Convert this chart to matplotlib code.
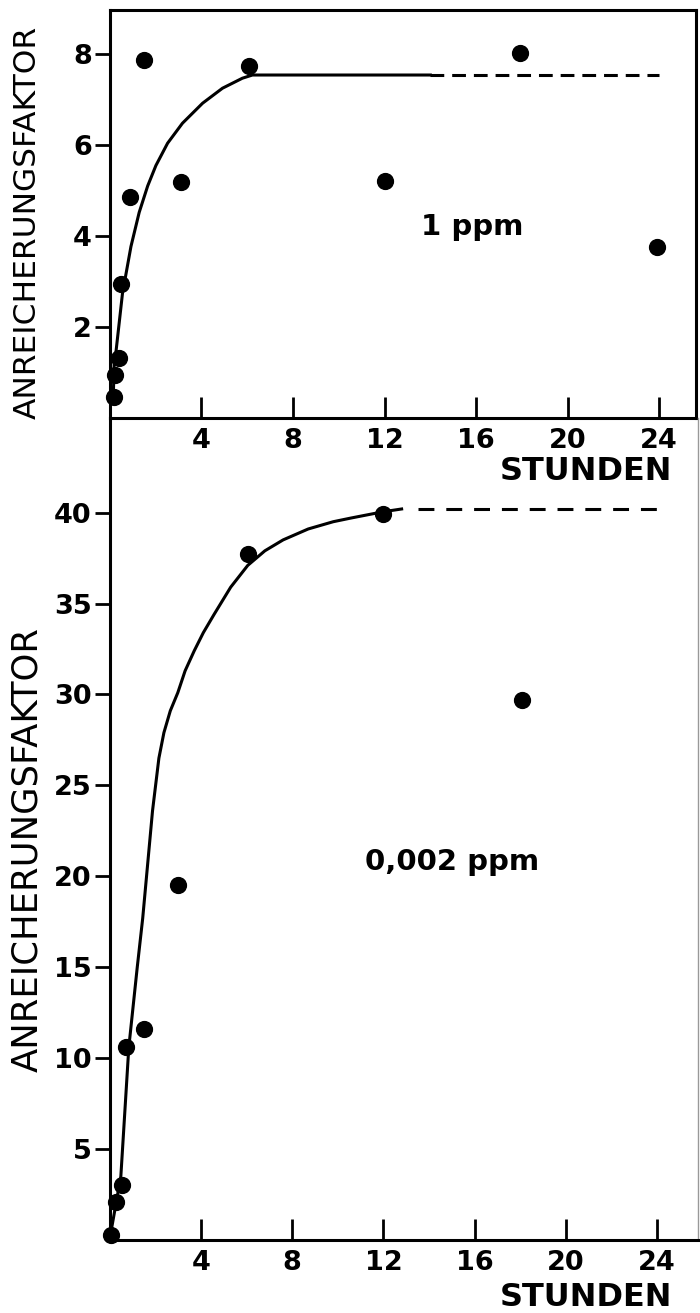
import matplotlib.pyplot as plt

# Messpunkte 1 ppm
t_1ppm = [0.17, 0.23, 0.4, 0.5, 0.88, 1.5, 3.1, 6.07, 12.0, 17.9, 23.9]
f_1ppm = [0.46, 0.95, 1.32, 2.95, 4.86, 7.87, 5.19, 7.74, 5.2, 8.02, 3.76]
# Kurve 1 ppm
kurve_t_1ppm = [0.15, 0.19, 0.26, 0.55, 0.92, 1.28, 1.65, 2.01, 2.52, 3.17, 4.05, 4.92, 5.79, 6.23, 10.0, 14.0]
kurve_f_1ppm = [0.5, 1.27, 1.43, 2.74, 3.77, 4.52, 5.1, 5.55, 6.04, 6.48, 6.92, 7.25, 7.47, 7.54, 7.54, 7.54]
strich_t_1ppm = [14.0, 24.0]
strich_f_1ppm = [7.54, 7.54]

# Messpunkte 0,002 ppm
t_2ppb = [0.04, 0.26, 0.52, 0.7, 1.5, 2.98, 6.05, 12.0, 18.07]
f_2ppb = [0.27, 2.1, 3.0, 10.6, 11.6, 19.5, 37.7, 39.9, 29.7]
kurve_t_2ppb = [0.0, 0.04, 0.48, 0.83, 1.2, 1.44, 1.87, 2.15, 2.37, 2.65, 2.98, 3.3, 3.7, 4.1, 4.57, 5.3, 6.05, 6.8, 7.6, 8.7, 9.8, 10.57, 12.0, 12.8]
kurve_f_2ppb = [0.0, 0.4, 3.5, 10.6, 15.0, 17.7, 23.6, 26.5, 27.9, 29.1, 30.1, 31.3, 32.4, 33.4, 34.4, 35.9, 37.1, 37.9, 38.5, 39.1, 39.5, 39.7, 40.05, 40.2]
strich_t_2ppb = [13.5, 24.0]
strich_f_2ppb = [40.2, 40.2]

x_ticks = [4, 8, 12, 16, 20, 24]
y_ticks_oben = [2, 4, 6, 8]
y_ticks_unten = [5, 10, 15, 20, 25, 30, 35, 40]

plt.rcParams['font.family'] = ['DejaVu Sans']
plt.rcParams['font.weight'] = 'bold'
lw = 2.2

fig = plt.figure(figsize=(7, 13.13), dpi=100)
ax1 = fig.add_axes([0.157, 0.6817, 0.837, 0.3107])
ax2 = fig.add_axes([0.157, 0.0556, 0.84, 0.626])

# oberes Diagramm
ax1.plot(kurve_t_1ppm, kurve_f_1ppm, color='black', lw=lw)
ax1.plot(strich_t_1ppm, strich_f_1ppm, color='black', lw=lw, linestyle=(0, (4.5, 2.6)))
ax1.scatter(t_1ppm, f_1ppm, s=130, color='black', zorder=3, clip_on=False)
ax1.set_xlim(0, 25.6)
ax1.set_ylim(0, 8.97)
ax1.set_yticks(y_ticks_oben)
ax1.text(13.6, 4.2, '1 ppm', fontsize=21, va='center', ha='left')

# unteres Diagramm
ax2.plot(kurve_t_2ppb, kurve_f_2ppb, color='black', lw=lw)
ax2.plot(strich_t_2ppb, strich_f_2ppb, color='black', lw=lw, linestyle=(0, (5.2, 3.9)))
ax2.scatter(t_2ppb, f_2ppb, s=130, color='black', zorder=3, clip_on=False)
ax2.set_xlim(0, 25.8)
ax2.set_ylim(0, 45.2)
ax2.set_yticks(y_ticks_unten)
ax2.text(11.2, 20.8, '0,002 ppm', fontsize=21, va='center', ha='left')
ax2.spines['top'].set_visible(False)
ax2.spines['right'].set_color('#999999')
ax2.spines['right'].set_linewidth(1.0)

for ax in (ax1, ax2):
    ax.set_xticks(x_ticks)
    ax.tick_params(axis='x', direction='in', length=15, width=2, labelsize=19.5, pad=7)
    ax.tick_params(axis='y', direction='out', length=11, width=2, labelsize=19.5, pad=2)
    for s in ('left', 'bottom', 'top'):
        ax.spines[s].set_linewidth(lw)
    ax.patch.set_alpha(0)
ax1.spines['right'].set_linewidth(lw)

fig.text(672 / 700, 1 - 472 / 1313, 'STUNDEN', fontsize=23, ha='right', va='center')
fig.text(672 / 700, 1 - 1297 / 1313, 'STUNDEN', fontsize=23, ha='right', va='center')
# Achsentitel in normaler Schrift
fig.text(27 / 700, 1 - 222 / 1313, 'ANREICHERUNGSFAKTOR', fontsize=22.5, fontweight='normal',
         rotation=90, ha='center', va='center')
fig.text(27 / 700, 1 - 850 / 1313, 'ANREICHERUNGSFAKTOR', fontsize=25.5, fontweight='normal',
         rotation=90, ha='center', va='center')

fig.savefig('out.png', dpi=100)
